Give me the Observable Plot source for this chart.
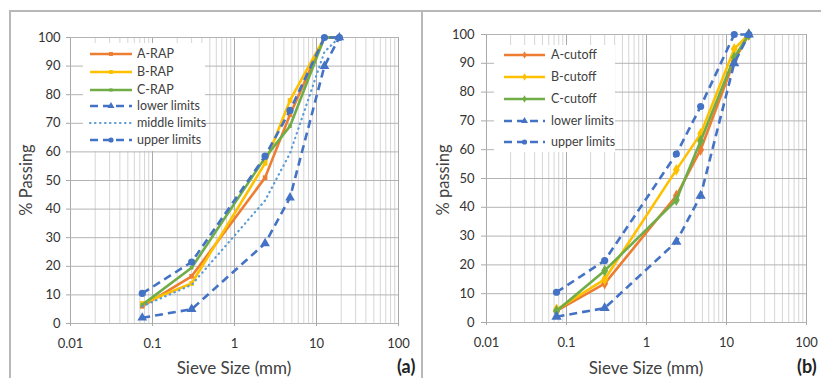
<!DOCTYPE html>
<html><head><meta charset="utf-8">
<script src="https://cdn.jsdelivr.net/npm/d3@7"></script>
<script src="https://cdn.jsdelivr.net/npm/@observablehq/plot@0.6"></script>
<style>
body{margin:0;background:#fff;}
#page{position:relative;width:821px;height:378px;overflow:hidden;background:#fff;font-family:Lato,"Open Sans",sans-serif;color:#333}
.abs{position:absolute}
.legend{position:absolute;background:#fff;font-size:12.5px;color:#404040}
.legend span{position:absolute;white-space:nowrap;line-height:15px}
.ytitle{position:absolute;font-size:16.5px;white-space:nowrap;transform:translate(-50%,-50%) rotate(-90deg);color:#404040}
.xtitle{position:absolute;font-size:17px;white-space:nowrap;transform:translate(-50%,-50%);color:#404040}
.tag{position:absolute;font-size:18px;font-weight:bold;white-space:nowrap;color:#222}
.line{position:absolute;background:#b8b8b8}
</style></head><body><div id="page"></div>
<script>
// ---- data ----
const sieve = [0.075, 0.3, 2.36, 4.75, 12.5, 19];
// panel (a)
const aRAP    = [6, 16.5, 51, 73, 100, 100];
const bRAP    = [7, 14, 56, 78, 100, 100];
const cRAP    = [6.5, 19.5, 58, 69, 100, 100];
const lowerA  = [2, 5, 28, 44, 90, 100];
const middleA = [6, 13.5, 43, 59.5, 95, 100];
const upperA  = [10.5, 21.5, 58.5, 74.5, 100, 100];
// panel (b)
const aCut    = [4, 13.5, 44, 60, 91, 100];
const bCut    = [4.5, 15, 53, 65.5, 95, 100];
const cCut    = [4, 18, 42.5, 63, 92, 100];
const lowerB  = [2, 5, 28, 44, 90, 100];
const upperB  = [10.5, 21.5, 58.5, 75, 100, 100];
// ticks
const xTicks = [0.01, 0.1, 1, 10, 100];
const xTickLabels = ["0.01", "0.1", "1", "10", "100"];
const yTicks = [0, 10, 20, 30, 40, 50, 60, 70, 80, 90, 100];
const namesA = ["A-RAP", "B-RAP", "C-RAP", "lower limits", "middle limits", "upper limits"];
const namesB = ["A-cutoff", "B-cutoff", "C-cutoff", "lower limits", "upper limits"];

// ---- styles ----
const ORANGE = "#ED7D31", YELLOW = "#FFC000", GREEN = "#70AD47", BLUE = "#4472C4", LBLUE = "#5B9BD5";
const solid = (color, symbol, r, lr) => ({color, width: 2.6, dash: null, cap: "butt", symbol, r, lr});
const dashed = (color, symbol, r, lr) => ({color, width: 2.6, dash: "8,5", cap: "butt", symbol, r, lr});
const dotted = (color) => ({color, width: 2.2, dash: "0.5,4.5", cap: "round", symbol: null, r: 0, lr: 0});

const seriesA = [
  {name: namesA[0], values: aRAP, ...solid(ORANGE, "square", 2.6, 2.2)},
  {name: namesA[1], values: bRAP, ...solid(YELLOW, "square", 2.6, 2.2)},
  {name: namesA[2], values: cRAP, ...solid(GREEN, "square", 2, 1.8)},
  {name: namesA[3], values: lowerA, ...dashed(BLUE, "triangle", 3.6, 2.6)},
  {name: namesA[4], values: middleA, ...dotted(LBLUE)},
  {name: namesA[5], values: upperA, ...dashed(BLUE, "circle", 3.6, 2.6)}
];
const seriesB = [
  {name: namesB[0], values: aCut, ...solid(ORANGE, "diamond", 3.6, 2.2)},
  {name: namesB[1], values: bCut, ...solid(YELLOW, "diamond", 3.6, 2.2)},
  {name: namesB[2], values: cCut, ...solid(GREEN, "diamond", 3.6, 2.2)},
  {name: namesB[3], values: lowerB, ...dashed(BLUE, "triangle", 3.8, 2.6)},
  {name: namesB[4], values: upperB, ...dashed(BLUE, "circle", 3.6, 2.6)}
];

const page = document.getElementById("page");
const fmtX = d => xTickLabels[xTicks.findIndex(t => Math.abs(Math.log10(t) - Math.log10(d)) < 1e-6)];

function makePanel(cfg) {
  const minor = d3.scaleLog().domain([0.01, 100]).ticks()
    .filter(v => Math.abs(Math.log10(v) - Math.round(Math.log10(v))) > 1e-6);
  const marks = [
    Plot.ruleX(minor, {stroke: "#d6d6d6", strokeWidth: 1}),
    Plot.ruleX(xTicks, {stroke: "#a9a9a9", strokeWidth: 1}),
    Plot.ruleY(yTicks, {stroke: "#b4b4b4", strokeWidth: 1}),
    Plot.axisY({ticks: yTicks, tickSize: cfg.ytick, tickPadding: cfg.ypad, label: null, stroke: "#a9a9a9", fill: "#333"}),
    Plot.axisX({ticks: xTicks, tickFormat: fmtX, tickSize: 3, tickPadding: 12, label: null, stroke: "#a9a9a9", fill: "#333"})
  ];
  for (const s of cfg.series) {
    const rows = sieve.map((x, i) => ({x, y: s.values[i]}));
    marks.push(Plot.line(rows, {x: "x", y: "y", stroke: s.color, strokeWidth: s.width,
      strokeDasharray: s.dash, strokeLinecap: s.cap, strokeLinejoin: "round"}));
    if (s.symbol) marks.push(Plot.dot(rows, {x: "x", y: "y", symbol: s.symbol, r: s.r, fill: s.color, stroke: "none"}));
  }
  const svg = Plot.plot({
    width: cfg.width, height: 378,
    marginLeft: cfg.ml, marginRight: cfg.mr, marginTop: cfg.mt, marginBottom: 378 - cfg.bottom,
    x: {type: "log", domain: [0.01, 100]},
    y: {domain: [0, 100]},
    style: {fontFamily: "Lato, 'Open Sans', sans-serif", fontSize: "13px", background: "transparent", overflow: "visible"},
    marks
  });
  const holder = document.createElement("div");
  holder.className = "abs";
  holder.style.left = cfg.left + "px";
  holder.style.top = "0px";
  holder.appendChild(svg);
  page.appendChild(holder);
}

function makeLegend(cfg) {
  const box = document.createElement("div");
  box.className = "legend";
  Object.assign(box.style, {left: cfg.left + "px", top: cfg.top + "px", width: cfg.w + "px", height: cfg.h + "px"});
  const ns = "http://www.w3.org/2000/svg";
  const svg = document.createElementNS(ns, "svg");
  svg.setAttribute("width", cfg.w); svg.setAttribute("height", cfg.h);
  svg.style.position = "absolute"; svg.style.left = "0"; svg.style.top = "0";
  cfg.series.forEach((s, i) => {
    const cy = cfg.rows[i] - cfg.top;
    const line = document.createElementNS(ns, "line");
    line.setAttribute("x1", cfg.x0 - cfg.left); line.setAttribute("x2", cfg.x1 - cfg.left);
    line.setAttribute("y1", cy); line.setAttribute("y2", cy);
    line.setAttribute("stroke", s.color); line.setAttribute("stroke-width", s.width);
    if (s.dash) line.setAttribute("stroke-dasharray", s.dash);
    line.setAttribute("stroke-linecap", s.cap);
    svg.appendChild(line);
    if (s.symbol) {
      const typ = {square: d3.symbolSquare, triangle: d3.symbolTriangle, circle: d3.symbolCircle, diamond: d3.symbolDiamond}[s.symbol];
      const p = document.createElementNS(ns, "path");
      p.setAttribute("d", d3.symbol(typ, Math.PI * s.lr * s.lr)());
      p.setAttribute("transform", `translate(${(cfg.x0 + cfg.x1) / 2 - cfg.left},${cy})`);
      p.setAttribute("fill", s.color);
      svg.appendChild(p);
    }
    const t = document.createElement("span");
    t.textContent = s.name;
    t.style.left = (cfg.tx - cfg.left) + "px";
    t.style.top = (cy - 8) + "px";
    box.appendChild(t);
  });
  box.insertBefore(svg, box.firstChild);
  page.appendChild(box);
}

function addText(cls, text, x, y) {
  const d = document.createElement("div");
  d.className = cls; d.textContent = text;
  d.style.left = x + "px"; d.style.top = y + "px";
  page.appendChild(d);
}
function addLine(x, y, w, h) {
  const d = document.createElement("div");
  d.className = "line";
  Object.assign(d.style, {left: x + "px", top: y + "px", width: w + "px", height: h + "px"});
  page.appendChild(d);
}

// panels
makePanel({series: seriesA, left: 0, width: 415, ml: 70, mr: 17, mt: 37, bottom: 323, ytick: 4, ypad: 6});
makePanel({series: seriesB, left: 410, width: 411, ml: 76, mr: 15, mt: 34, bottom: 322, ytick: 5, ypad: 7});

makeLegend({series: seriesA, left: 83, top: 43, w: 122, h: 108, rows: [54, 72, 90, 106, 123, 140], x0: 90, x1: 132, tx: 137});
makeLegend({series: seriesB, left: 494, top: 45, w: 121, h: 107, rows: [55, 77, 99, 121, 142], x0: 504, x1: 545, tx: 551});

addText("ytitle", "% Passing", 26, 180);
addText("ytitle", "% passing", 443, 180);
addText("xtitle", "Sieve Size (mm)", 234, 367);
addText("xtitle", "Sieve Size (mm)", 646, 367);
addText("tag", "(a)", 397, 355);
addText("tag", "(b)", 797, 355);

// frame lines
addLine(9, 10, 812, 1.5);
addLine(9, 10, 1.5, 368);
addLine(421, 10, 1.5, 368);
</script></body></html>
